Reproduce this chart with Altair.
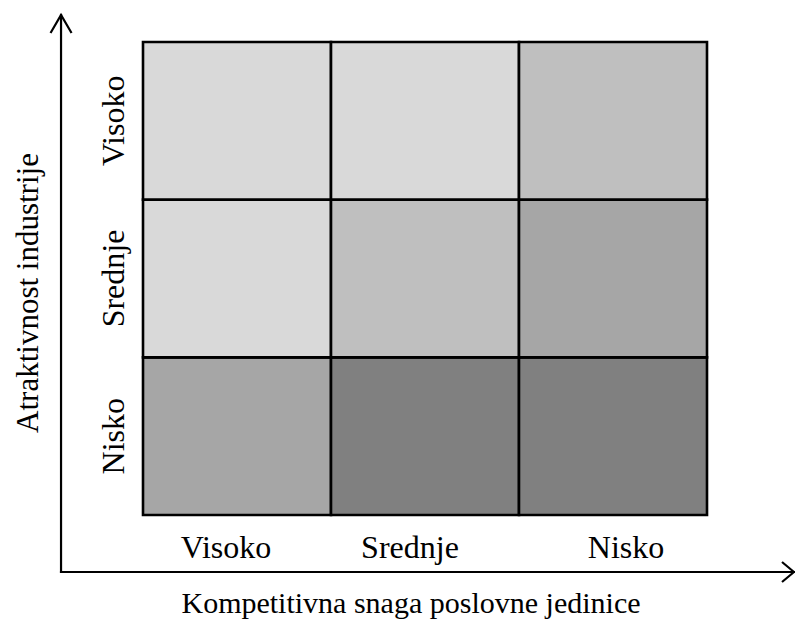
import altair as alt
import pandas as pd

# Categories
x_levels = ["Visoko", "Srednje", "Nisko"]      # competitive strength, left -> right
y_levels = ["Nisko", "Srednje", "Visoko"]      # industry attractiveness, bottom -> top
x_title = "Kompetitivna snaga poslovne jedinice"
y_title = "Atraktivnost industrije"

# Cell shades, one list per attractiveness row (bottom -> top), columns left -> right
row_nisko = ["#a6a6a6", "#808080", "#808080"]
row_srednje = ["#d9d9d9", "#bfbfbf", "#a6a6a6"]
row_visoko = ["#d9d9d9", "#d9d9d9", "#bfbfbf"]
shades = [row_nisko, row_srednje, row_visoko]

cells = pd.DataFrame(
    [
        {"x": c, "x2": c + 1, "y": r, "y2": r + 1, "fill": shades[r][c]}
        for r in range(3)
        for c in range(3)
    ]
)

W, H = 787, 613
XS = alt.Scale(domain=[-0.7181, 3.4681], nice=False, zero=False)
YS = alt.Scale(domain=[-0.6723, 3.2156], nice=False, zero=False)

AX_X = -0.436   # vertical axis arrow position (grid units)
AX_Y = -0.3615  # horizontal axis arrow position
TOP = 3.171
RIGHT = 3.4628
FONT = "Liberation Serif"
FS_LAB = 32
FS_XT = 30
FS_YT = 31

ylab = pd.DataFrame({"x": [-0.101] * 3, "y": [i + 0.5 for i in range(3)], "label": y_levels})
xt = pd.DataFrame({"x": [1.4255], "y": [-0.6216], "label": [x_title]})
yt = pd.DataFrame({"x": [-0.5585], "y": [1.408], "label": [y_title]})


def X(f="x"):
    return alt.X(f"{f}:Q", scale=XS, axis=None)


def Y(f="y"):
    return alt.Y(f"{f}:Q", scale=YS, axis=None)


rects = alt.Chart(cells).mark_rect(stroke="black", strokeWidth=2.6).encode(
    x=X(), x2="x2:Q", y=Y(), y2="y2:Q",
    fill=alt.Fill("fill:N", scale=None),
)

axes_df = pd.DataFrame(
    [
        {"x": AX_X, "x2": AX_X, "y": AX_Y, "y2": TOP},
        {"x": AX_X, "x2": RIGHT, "y": AX_Y, "y2": AX_Y},
    ]
)
axes = alt.Chart(axes_df).mark_rule(color="black", strokeWidth=2.2, strokeCap="square").encode(
    x=X(), x2="x2:Q", y=Y(), y2="y2:Q",
)

up_head = alt.Chart(pd.DataFrame({"x": [AX_X], "y": [TOP]})).mark_point(
    shape="M-1.05,1.8L0,0L1.05,1.8", size=400, filled=False, color="black",
    strokeWidth=2.2, opacity=1,
).encode(x=X(), y=Y())

right_head = alt.Chart(pd.DataFrame({"x": [RIGHT], "y": [AX_Y]})).mark_point(
    shape="M-1.2,-1L0,0L-1.2,1", size=400, filled=False, color="black",
    strokeWidth=2.2, opacity=1,
).encode(x=X(), y=Y())

# column labels under the grid, each nudged as in the original
label_dx = [-11, -15, 13]
x_label_layers = []
for i, (lab, dx) in enumerate(zip(x_levels, label_dx)):
    d = pd.DataFrame({"x": [i + 0.5], "y": [-0.273], "label": [lab]})
    x_label_layers.append(
        alt.Chart(d).mark_text(
            font=FONT, fontSize=FS_LAB, baseline="alphabetic", align="center",
            color="black", dx=dx,
        ).encode(x=X(), y=Y(), text="label:N")
    )

y_labels = alt.Chart(ylab).mark_text(
    font=FONT, fontSize=FS_LAB, baseline="alphabetic", align="center", angle=270, color="black"
).encode(x=X(), y=Y(), text="label:N")

x_title_mark = alt.Chart(xt).mark_text(
    font=FONT, fontSize=FS_XT, baseline="alphabetic", align="center", color="black"
).encode(x=X(), y=Y(), text="label:N")

y_title_mark = alt.Chart(yt).mark_text(
    font=FONT, fontSize=FS_YT, baseline="alphabetic", align="center", angle=270, color="black"
).encode(x=X(), y=Y(), text="label:N")

chart = (
    alt.layer(rects, axes, up_head, right_head, *x_label_layers, y_labels, x_title_mark, y_title_mark)
    .properties(width=W, height=H, autosize=alt.AutoSizeParams(type="none"), padding=0)
    .configure_view(stroke=None)
)

chart.save("out.html", embed_options={"renderer": "svg", "actions": False})
